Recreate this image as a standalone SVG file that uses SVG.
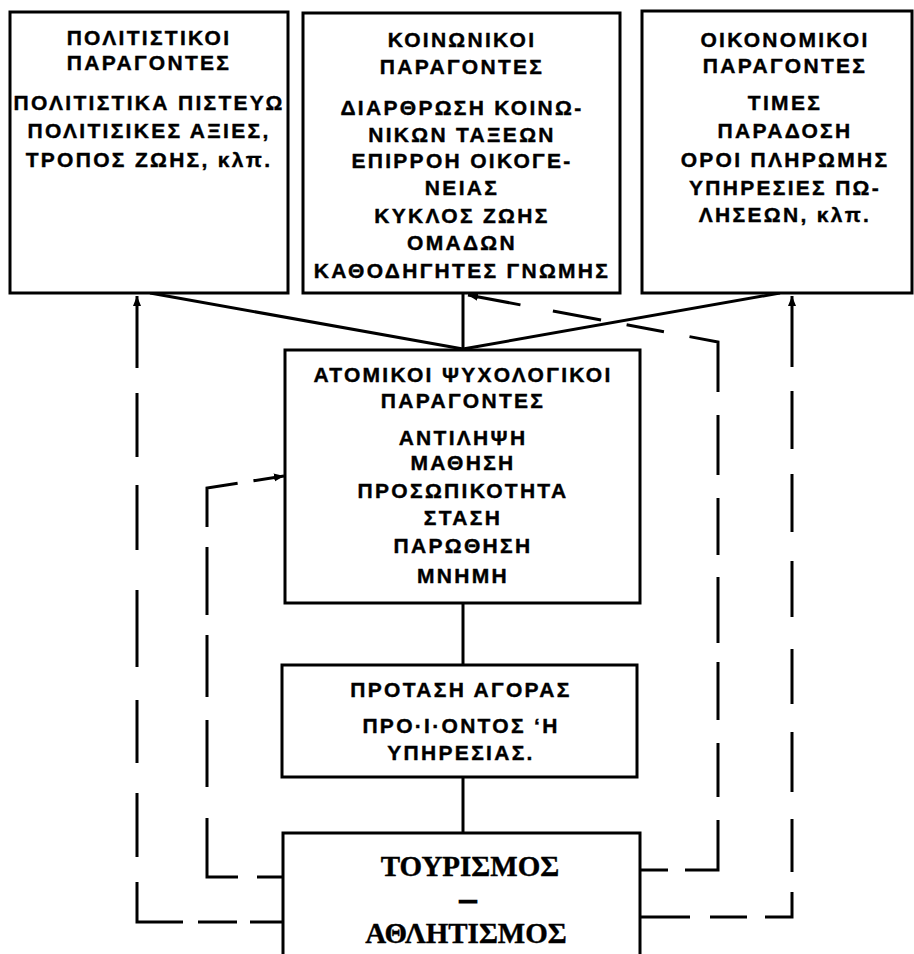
<svg xmlns="http://www.w3.org/2000/svg" width="914" height="954" viewBox="0 0 914 954">
<defs>
<style>
.box{fill:#fff;stroke:#000;stroke-width:3}
.t{font-family:"Liberation Sans","DejaVu Sans",sans-serif;font-weight:bold;font-size:21px;text-anchor:middle;fill:#000;stroke:#000;stroke-width:0.4;letter-spacing:2.3px}
.big{font-family:"Liberation Serif","DejaVu Serif",serif;font-weight:bold;font-size:29px;text-anchor:middle;fill:#000;stroke:#000;stroke-width:0.4}
.ln{fill:none;stroke:#000;stroke-width:3}
.dash{fill:none;stroke:#000;stroke-width:3}
</style>
<marker id="ah" markerUnits="userSpaceOnUse" markerWidth="12" markerHeight="10" refX="10" refY="5" orient="auto">
<path d="M0,1 L10,5 L0,9 Z" fill="#000"/>
</marker>
</defs>
<rect width="914" height="954" fill="#fff"/>

<g id="connectors">
<path class="ln" d="M150,293 L463,349"/>
<path class="ln" d="M463,293 L463,349"/>
<path class="ln" d="M780,293 L463,349"/>
<path class="ln" d="M463,603 L463,665"/>
<path class="ln" d="M463,777 L463,833"/>
<path class="dash" d="M283,922 H137 V296" marker-end="url(#ah)" stroke-dasharray="33 13 39 15 86 25 64 30 63 33 77 40 65 28 64 25 90"/>
<path class="dash" d="M283,877 H207 V488 L284,476" marker-end="url(#ah)" stroke-dasharray="26 19 90 31 67 23 62 20 68 20 70 16 40"/>
<path class="dash" d="M640,870 H718 V342 L468,295" marker-end="url(#ah)" stroke-dasharray="28 17 83 23 54 23 58 19 66 22 57 23 60 23 79 26 38 26 49 33 100"/>
<path class="dash" d="M640,917 H792 V296" marker-end="url(#ah)" stroke-dasharray="50 20 37 18 52 20 53 27 60 28 55 32 56 29 58 25 58 24 90"/>
</g>

<g id="cultural">
<rect class="box" x="10" y="12" width="278" height="281"/>
<text class="t" x="149" y="45">ΠΟΛΙΤΙΣΤΙΚΟΙ</text>
<text class="t" x="149" y="70">ΠΑΡΑΓΟΝΤΕΣ</text>
<text class="t" x="149" y="110">ΠΟΛΙΤΙΣΤΙΚΑ ΠΙΣΤΕΥΩ</text>
<text class="t" x="149" y="138">ΠΟΛΙΤΙΣΙΚΕΣ ΑΞΙΕΣ,</text>
<text class="t" x="149" y="167">ΤΡΟΠΟΣ ΖΩΗΣ, κλπ.</text>
</g>

<g id="social">
<rect class="box" x="303" y="13" width="317" height="280"/>
<text class="t" x="462" y="47">ΚΟΙΝΩΝΙΚΟΙ</text>
<text class="t" x="462" y="74">ΠΑΡΑΓΟΝΤΕΣ</text>
<text class="t" x="462" y="115">ΔΙΑΡΘΡΩΣΗ ΚΟΙΝΩ-</text>
<text class="t" x="462" y="142">ΝΙΚΩΝ ΤΑΞΕΩΝ</text>
<text class="t" x="462" y="168">ΕΠΙΡΡΟΗ ΟΙΚΟΓΕ-</text>
<text class="t" x="462" y="195">ΝΕΙΑΣ</text>
<text class="t" x="462" y="223">ΚΥΚΛΟΣ ΖΩΗΣ</text>
<text class="t" x="462" y="250">ΟΜΑΔΩΝ</text>
<text class="t" x="462" y="278">ΚΑΘΟΔΗΓΗΤΕΣ ΓΝΩΜΗΣ</text>
</g>

<g id="economic">
<rect class="box" x="642" y="11" width="270" height="282"/>
<text class="t" x="785" y="47">ΟΙΚΟΝΟΜΙΚΟΙ</text>
<text class="t" x="785" y="73">ΠΑΡΑΓΟΝΤΕΣ</text>
<text class="t" x="785" y="110">ΤΙΜΕΣ</text>
<text class="t" x="785" y="138">ΠΑΡΑΔΟΣΗ</text>
<text class="t" x="785" y="167">ΟΡΟΙ ΠΛΗΡΩΜΗΣ</text>
<text class="t" x="785" y="195">ΥΠΗΡΕΣΙΕΣ ΠΩ-</text>
<text class="t" x="785" y="222">ΛΗΣΕΩΝ, κλπ.</text>
</g>

<g id="psychological">
<rect class="box" x="285" y="350" width="355" height="253"/>
<text class="t" x="463" y="382">ΑΤΟΜΙΚΟΙ ΨΥΧΟΛΟΓΙΚΟΙ</text>
<text class="t" x="463" y="408">ΠΑΡΑΓΟΝΤΕΣ</text>
<text class="t" x="463" y="445">ΑΝΤΙΛΗΨΗ</text>
<text class="t" x="463" y="470">ΜΑΘΗΣΗ</text>
<text class="t" x="463" y="498">ΠΡΟΣΩΠΙΚΟΤΗΤΑ</text>
<text class="t" x="463" y="525">ΣΤΑΣΗ</text>
<text class="t" x="463" y="553">ΠΑΡΩΘΗΣΗ</text>
<text class="t" x="463" y="583">ΜΝΗΜΗ</text>
</g>

<g id="offer">
<rect class="box" x="282" y="665" width="355" height="112"/>
<text class="t" x="461" y="697">ΠΡΟΤΑΣΗ ΑΓΟΡΑΣ</text>
<text class="t" x="461" y="733">ΠΡΟ·Ι·ΟΝΤΟΣ ‘Η</text>
<text class="t" x="461" y="760">ΥΠΗΡΕΣΙΑΣ.</text>
</g>

<g id="tourism">
<rect class="box" x="283" y="833" width="357" height="140"/>
<text class="big" x="470" y="876">ΤΟΥΡΙΣΜΟΣ</text>
<text class="big" x="468" y="906" style="font-size:16px;stroke-width:2.5">—</text>
<text class="big" x="466" y="943">ΑΘΛΗΤΙΣΜΟΣ</text>
</g>
</svg>
